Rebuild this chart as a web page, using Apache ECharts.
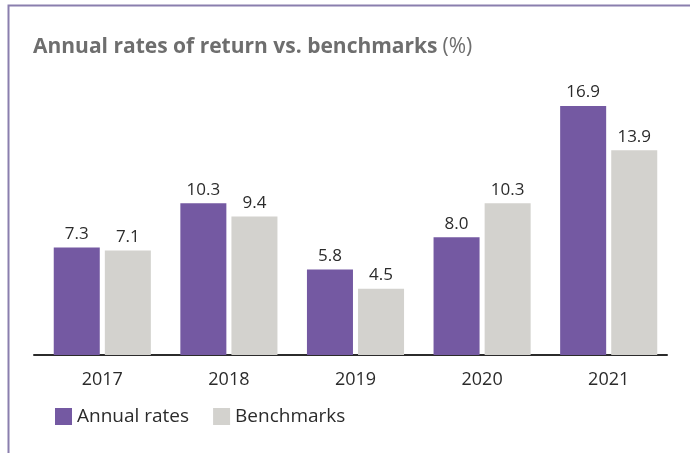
<!DOCTYPE html>
<html>
<head>
<meta charset="utf-8">
<script src="https://cdn.jsdelivr.net/npm/echarts@6/dist/echarts.min.js"></script>
<style>html,body{margin:0;padding:0;background:#fff}#c{width:690px;height:453px}</style>
</head>
<body>
<div id="c"></div>
<script>
const categories = ['2017', '2018', '2019', '2020', '2021'];
const annualRates = [7.3, 10.3, 5.8, 8.0, 16.9];
const benchmarks = [7.1, 9.4, 4.5, 10.3, 13.9];
const seriesNames = ['Annual rates', 'Benchmarks'];

const FONT = '"Open Sans", "Noto Sans", sans-serif';
const chart = echarts.init(document.getElementById('c'), null, {renderer: 'canvas'});
const labelCfg = {
  show: true, position: 'top', distance: 5,
  fontFamily: FONT, fontSize: 17, color: '#2b2b2b',
  formatter: p => p.value.toFixed(1)
};
chart.setOption({
  animation: false,
  graphic: [{
    type: 'rect', left: 6, top: 3, z: -1,
    shape: {width: 700, height: 449},
    style: {fill: 'none', stroke: '#8a7fae', lineWidth: 2}
  }],
  title: {
    text: '{b|Annual rates of return vs. benchmarks} {n|(%)}',
    left: 28, top: 32,
    textStyle: {
      rich: {
        b: {fontFamily: FONT, fontSize: 21, fontWeight: 'bold', color: '#6e6e6e'},
        n: {fontFamily: FONT, fontSize: 21, fontWeight: 'normal', color: '#6e6e6e'}
      }
    }
  },
  legend: {
    left: 50, top: 402,
    itemWidth: 17, itemHeight: 17, itemGap: 24,
    icon: 'rect',
    textStyle: {fontFamily: FONT, fontSize: 19, color: '#2b2b2b'},
    data: seriesNames
  },
  grid: [
    {left: 39, right: 18, top: 60.4, bottom: 98},
    {left: 34, right: 23, top: 60.4, bottom: 98}
  ],
  xAxis: [{
    type: 'category', data: categories, gridIndex: 0,
    axisLine: {show: false}, axisTick: {show: false},
    axisLabel: {margin: 16, fontFamily: FONT, fontSize: 18, color: '#2b2b2b'}
  }, {
    type: 'value', gridIndex: 1, min: 0, max: 1,
    axisLine: {show: true, lineStyle: {color: '#2b2b2b', width: 2}},
    axisTick: {show: false}, axisLabel: {show: false}, splitLine: {show: false}
  }],
  yAxis: [{
    type: 'value', min: 0, max: 20, gridIndex: 0, show: false
  }, {
    type: 'value', min: 0, max: 20, gridIndex: 1, show: false
  }],
  series: [{
    name: seriesNames[0], type: 'bar', data: annualRates,
    itemStyle: {color: '#7459a2'},
    barGap: '11%', barCategoryGap: '23.3%',
    label: labelCfg
  }, {
    name: seriesNames[1], type: 'bar', data: benchmarks,
    itemStyle: {color: '#d3d2ce'},
    barGap: '11%', barCategoryGap: '23.3%',
    label: labelCfg
  }]
});
</script>
</body>
</html>
